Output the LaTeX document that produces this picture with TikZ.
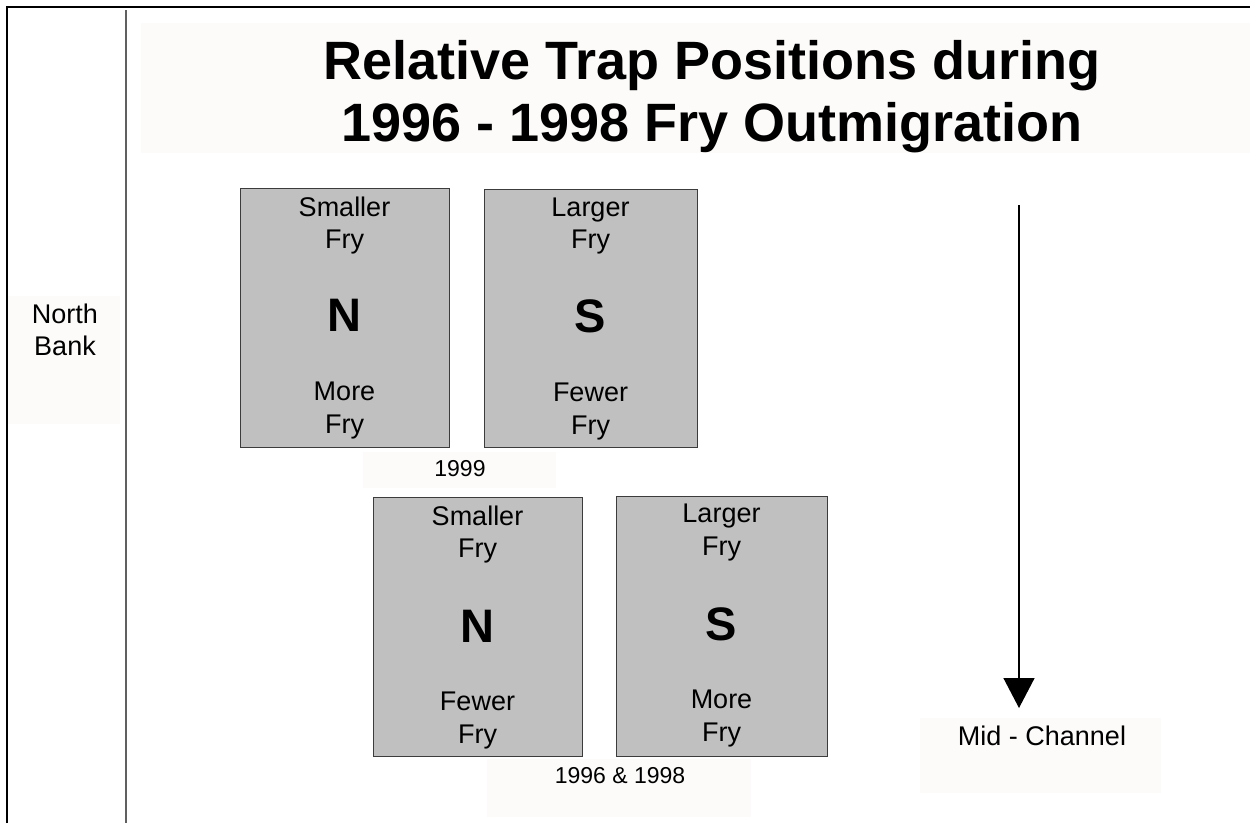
\documentclass[tikz,border=0pt]{standalone}
\usepackage{fontspec}
\setmainfont{Liberation Sans}
\usetikzlibrary{arrows.meta}
\definecolor{bgpale}{RGB}{252,251,250}
\definecolor{trapfill}{RGB}{192,192,192}
\definecolor{trapedge}{RGB}{60,60,60}
\definecolor{divider}{RGB}{96,96,96}
\tikzset{
  labelbg/.style={fill=bgpale, draw=none, inner sep=0pt, anchor=north west},
  trapbox/.style={fill=trapfill, draw=trapedge, line width=1pt, inner sep=0pt, anchor=north west},
  bodytext/.style={inner sep=0pt, anchor=base, font=\fontsize{27}{32}\selectfont},
  smalltext/.style={inner sep=0pt, anchor=base, font=\fontsize{23}{27}\selectfont},
  bigletter/.style={inner sep=0pt, anchor=base, font=\fontsize{47}{54}\selectfont\bfseries},
  titletext/.style={inner sep=0pt, anchor=base, font=\fontsize{54}{62}\selectfont\bfseries},
}
\begin{document}
\begin{tikzpicture}[x=1pt,y=-1pt]
\useasboundingbox (0,0) rectangle (1250,823);
% frame lines
\coordinate (ftl) at (7,7);
\coordinate (ftr) at (1250,7);
\coordinate (fbl) at (7,823);
\draw[line width=1.4pt] (fbl) -- (ftl) -- (ftr);
\coordinate (dtop) at (126,10);
\coordinate (dbot) at (126,823);
\draw[divider, line width=2pt] (dtop) -- (dbot);
% backgrounds
\node[labelbg, minimum width=1109pt, minimum height=130pt] (titlebg) at (141,23) {};
\node[labelbg, minimum width=112pt, minimum height=128pt] (northbg) at (8,296) {};
\node[labelbg, minimum width=193pt, minimum height=36pt] (y99bg) at (363,452) {};
\node[labelbg, minimum width=264pt, minimum height=58pt] (y98bg) at (487,759) {};
\node[labelbg, minimum width=241pt, minimum height=75pt] (midbg) at (920,718) {};
% title
\node[titletext] (title1) at (712,79) {Relative Trap Positions during};
\node[titletext] (title2) at (712,141) {1996 - 1998 Fry Outmigration};
% labels
\node[bodytext] (north1) at (65,323) {North};
\node[bodytext] (north2) at (65,355) {Bank};
\node[smalltext] (y99) at (460,476) {1999};
\node[smalltext] (y98) at (620,783) {1996 \& 1998};
\node[bodytext] (mid) at (1042,745) {Mid - Channel};
% trap boxes
\node[trapbox, minimum width=209pt, minimum height=259pt] (b1) at (240,188) {};
\node[trapbox, minimum width=213pt, minimum height=258pt] (b2) at (484,189) {};
\node[trapbox, minimum width=209pt, minimum height=259pt] (b3) at (373,497) {};
\node[trapbox, minimum width=211pt, minimum height=260pt] (b4) at (616,496) {};
% box 1
\node[bodytext] (b1a) at (344.5,216) {Smaller};
\node[bodytext] (b1b) at (344.5,248) {Fry};
\node[bigletter] (b1n) at (344.5,331) {N};
\node[bodytext] (b1c) at (344.5,400) {More};
\node[bodytext] (b1d) at (344.5,433) {Fry};
% box 2
\node[bodytext] (b2a) at (590.5,216) {Larger};
\node[bodytext] (b2b) at (590.5,248) {Fry};
\node[bigletter] (b2s) at (590.5,332) {S};
\node[bodytext] (b2c) at (590.5,401) {Fewer};
\node[bodytext] (b2d) at (590.5,434) {Fry};
% box 3
\node[bodytext] (b3a) at (477.5,525) {Smaller};
\node[bodytext] (b3b) at (477.5,557) {Fry};
\node[bigletter] (b3n) at (477.5,642) {N};
\node[bodytext] (b3c) at (477.5,710) {Fewer};
\node[bodytext] (b3d) at (477.5,743) {Fry};
% box 4
\node[bodytext] (b4a) at (721.5,522) {Larger};
\node[bodytext] (b4b) at (721.5,555) {Fry};
\node[bigletter] (b4s) at (721.5,640) {S};
\node[bodytext] (b4c) at (721.5,708) {More};
\node[bodytext] (b4d) at (721.5,741) {Fry};
% arrow
\coordinate (astart) at (1019,205);
\coordinate (aend) at (1019,708);
\draw[line width=1.4pt, -{Triangle[width=31pt,length=30pt]}] (astart) -- (aend);
\end{tikzpicture}
\end{document}
